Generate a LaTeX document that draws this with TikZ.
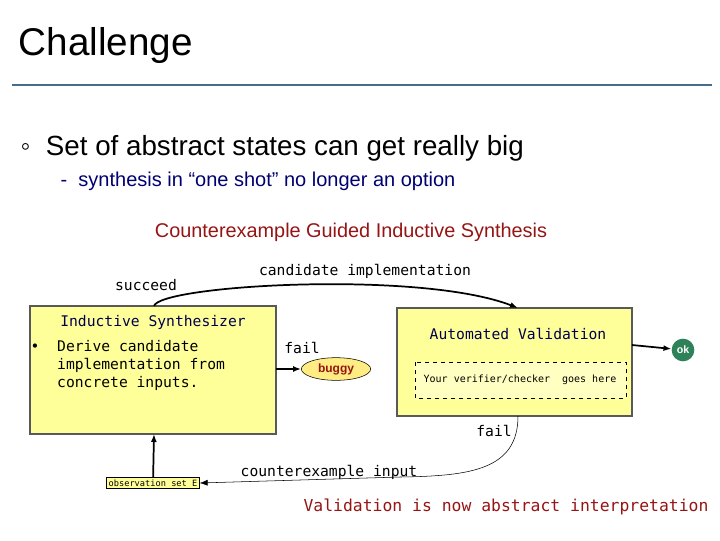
\documentclass[tikz,border=0pt]{standalone}
\usepackage{fontspec}
\setmainfont{Liberation Sans}
\setmonofont{DejaVu Sans Mono}
\usetikzlibrary{positioning,arrows.meta,shapes.geometric}
\definecolor{boxyellow}{RGB}{255,255,153}
\definecolor{darkred}{RGB}{150,20,20}
\definecolor{okgreen}{RGB}{46,130,90}
\definecolor{rulecol}{RGB}{70,110,140}
\tikzset{box/.style={draw=gray!70!black,fill=boxyellow,line width=0.8pt},
  mono/.style={font=\ttfamily\fontsize{11}{13.5}\selectfont},
  flow/.style={line width=1.3pt,-{Latex[length=6pt]}}}
\begin{document}
\begin{tikzpicture}[x=0.75pt,y=-0.75pt]
        \useasboundingbox (0,0) rectangle (720,540);
        \node[anchor=west,font=\fontsize{29}{32}\selectfont] (title) at (14,45) {Challenge};
        \draw[rulecol,line width=2.2pt] (12,85) -- (712,85);
        \node[anchor=west,font=\fontsize{20.8}{24}\selectfont] (pt1) at (16,148) {◦\ \ Set of abstract states can get really big};
        \node[anchor=west,font=\fontsize{15}{18}\selectfont,text=blue!45!black] (pt2) at (56,181) {-\ \ synthesis in “one shot” no longer an option};
        \node[font=\fontsize{14.9}{18}\selectfont,text=darkred] (cegis) at (351,232) {Counterexample Guided Inductive Synthesis};
        % synthesizer and validator
        \draw[box] (30,306) rectangle (276,434);
        \coordinate (syn top) at (154,306);
        \coordinate (syn bot) at (154,434);
        \coordinate (syn east) at (276,369);
        \node[mono,text=blue!30!black] (synname) at (153,322) {Inductive Synthesizer};
        \node[mono,anchor=north west,align=left] (syntext) at (26,336) {•\ \ Derive candidate\\\phantom{•\ \ }implementation from\\\phantom{•\ \ }concrete inputs.};
        \draw[box] (397,308) rectangle (632,416);
        \coordinate (val top) at (518,308);
        \coordinate (val bot) at (518,416);
        \coordinate (val east) at (632,345);
        \node[mono,text=blue!30!black] (valname) at (518,334) {Automated Validation};
        \draw[dashed,fill=boxyellow!60!white] (415,362) rectangle (626,398);
        \node[font=\ttfamily\fontsize{7.5}{9}\selectfont] (checker) at (520,380) {Your verifier/checker\ \ goes here};
        \node[draw,fill=boxyellow!85!orange,ellipse,minimum width=52pt,minimum height=17pt,inner sep=0pt,font=\bfseries\fontsize{9}{10}\selectfont,text=darkred] (buggy) at (336,369) {buggy};
        \node[circle,fill=okgreen,minimum size=17pt,inner sep=0pt,text=white,font=\bfseries\fontsize{8}{9}\selectfont] (ok) at (683,350) {ok};
        \node[draw,fill=boxyellow,inner sep=1.5pt,font=\ttfamily\fontsize{6.5}{8}\selectfont] (obs) at (153,483) {observation set E};
        % connectors
        \draw[flow] (syn top) .. controls (160,285) and (420,270) .. (val top);
        \draw[flow] (syn east) -- (buggy);
        \draw[flow] (val east) -- (ok);
        \draw[flow] (obs) -- (syn bot);
        \draw[-{Latex[length=6pt]}] (val bot) .. controls (518,470) and (470,476) .. (400,477) -- (obs.east);
        \node[mono] (lcand) at (365,271) {candidate implementation};
        \node[mono] (lsucc) at (146,285) {succeed};
        \node[mono] (lfail1) at (302,348) {fail};
        \node[mono] (lfail2) at (494,431) {fail};
        \node[mono] (lcex) at (329,472) {counterexample input};
        \node[mono,text=darkred,font=\ttfamily\fontsize{12.3}{14}\selectfont] (note) at (506,507) {Validation is now abstract interpretation};
\end{tikzpicture}
\end{document}
